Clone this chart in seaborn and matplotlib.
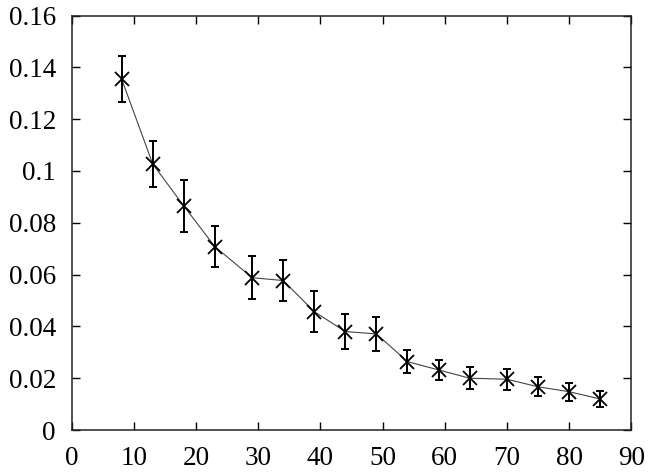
import matplotlib
matplotlib.use("Agg")
import matplotlib.pyplot as plt
import seaborn as sns
import pandas as pd

x_vals = [8, 13, 18, 23, 29, 34, 39, 44, 49, 54, 59, 64, 70, 75, 80, 85]
y_vals = [0.1355, 0.1027, 0.0865, 0.0708, 0.0588, 0.0577, 0.0457, 0.0380,
          0.0371, 0.0264, 0.0232, 0.0200, 0.0196, 0.0167, 0.0148, 0.0120]
y_err = [0.0090, 0.0090, 0.0100, 0.0079, 0.0084, 0.0079, 0.0078, 0.0068,
         0.0066, 0.0044, 0.0040, 0.0043, 0.0041, 0.0036, 0.0035, 0.0032]
x_ticks = [0, 10, 20, 30, 40, 50, 60, 70, 80, 90]
y_ticks = [0, 0.02, 0.04, 0.06, 0.08, 0.1, 0.12, 0.14, 0.16]
y_tick_labels = ["0", "0.02", "0.04", "0.06", "0.08", "0.1", "0.12", "0.14", "0.16"]

df = pd.DataFrame({"x": x_vals, "y": y_vals, "err": y_err})

sns.set_theme(style="white")
plt.rcParams["font.family"] = ["Liberation Serif", "DejaVu Serif"]

fig = plt.figure(figsize=(6.48, 4.76), dpi=100)
ax = fig.add_axes([0.111, 0.0966, 0.863, 0.8708])

sns.lineplot(data=df, x="x", y="y", ax=ax, color="#444444", linewidth=0.8,
             estimator=None, sort=False)
ax.errorbar(df["x"], df["y"], yerr=df["err"], fmt="none", ecolor="black",
            elinewidth=1.4, capsize=3.2, capthick=1.4, zorder=3)
ax.plot(df["x"], df["y"], linestyle="none", marker="x", markersize=10,
        markeredgewidth=1.3, color="black", zorder=4)
ax.plot(df["x"], df["y"], linestyle="none", marker="|", markersize=12,
        markeredgewidth=1.3, color="black", zorder=4)

ax.set_xlim(0, 90)
ax.set_ylim(0, 0.16)
ax.set_xticks(x_ticks)
ax.set_xticklabels([str(t) for t in x_ticks])
ax.set_yticks(y_ticks)
ax.set_yticklabels(y_tick_labels)
ax.set_xlabel("")
ax.set_ylabel("")

for s in ax.spines.values():
    s.set_visible(True)
    s.set_color("#222222")
    s.set_linewidth(1.1)

ax.tick_params(axis="both", which="both", direction="in", length=6, width=1.0,
               color="black", labelsize=19.5, labelcolor="black",
               top=True, right=True, bottom=True, left=True, pad=11.5)
ax.grid(False)

fig.savefig("out.png", dpi=100)
